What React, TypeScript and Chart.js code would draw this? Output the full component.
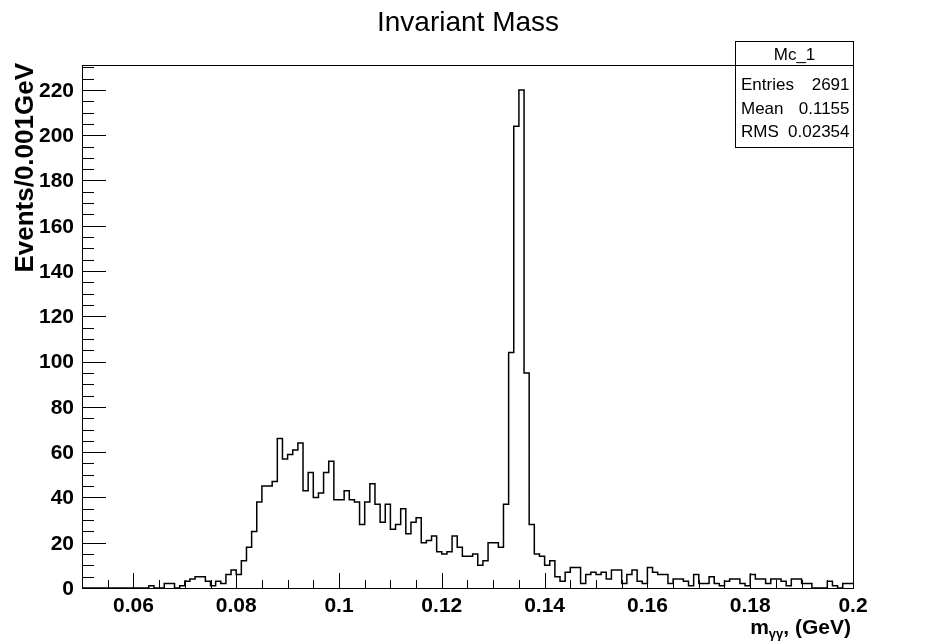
import React, { useEffect, useRef } from 'react';
import { Chart, registerables } from 'chart.js';

Chart.register(...registerables);

// ---- data ----
const X_MIN = 0.05;
const X_MAX = 0.2;
const BIN_WIDTH = 0.001;
const Y_MAX = 231;

// events per 0.001 GeV bin, from 0.050 to 0.200 GeV (150 bins)
const binCounts: number[] = [
  0, 0, 0, 0, 0, 0, 0, 0, 0, 0, 0, 0, 0, 1, 0, 0, 2, 2, 0, 1,
  3, 4, 5, 5, 3, 1, 3, 2, 6, 8, 6,
  12, 18, 25, 38, 45, 45, 47,
  66, 57, 59, 61, 64,
  43, 51, 40, 42, 51, 56, 39, 39,
  43, 39, 38, 28, 38, 46, 37, 29, 37, 26,
  28, 35, 24, 29, 31, 20, 21, 23, 16, 15,
  16, 23, 18, 14, 14, 15, 10, 12, 20, 20, 18,
  37, 104, 204, 220, 95, 28,
  15, 14, 10, 12, 5, 3, 7, 9, 9, 2, 6, 7, 6,
  7, 4, 8, 8, 2, 6, 8, 3, 2, 9, 7, 6, 6, 2, 4, 4, 3, 1, 6, 2,
  2, 5, 2, 1, 3, 4, 4, 2, 1, 6, 4, 4, 2, 4, 4, 3, 1, 4, 4, 2, 2, 0, 0, 0, 3, 1, 0, 2, 2,
];

const xTickValues = [0.06, 0.08, 0.1, 0.12, 0.14, 0.16, 0.18, 0.2];
const xTickLabels = ['0.06', '0.08', '0.1', '0.12', '0.14', '0.16', '0.18', '0.2'];
const yTickValues = [0, 20, 40, 60, 80, 100, 120, 140, 160, 180, 200, 220];
const yTickLabels = ['0', '20', '40', '60', '80', '100', '120', '140', '160', '180', '200', '220'];
const X_MINOR_STEP = 0.005;
const Y_MINOR_STEP = 5;

const chartTitle = 'Invariant Mass';
const yAxisTitle = 'Events/0.001GeV';
const xTitleMain = 'm';
const xTitleSub = 'γγ';
const xTitleRest = ', (GeV)';

const statsName = 'Mc_1';
const statsLabels = ['Entries', 'Mean', 'RMS'];
const statsValues = ['2691', '0.1155', '0.02354'];

const FONT = '"Liberation Sans", Arial, Helvetica, sans-serif';

const rootPlugin = {
  id: 'rootStyle',
  beforeDraw(chart: any) {
    const { ctx, width, height } = chart;
    ctx.save();
    ctx.fillStyle = '#ffffff';
    ctx.fillRect(0, 0, width, height);
    ctx.restore();
  },
  afterDraw(chart: any) {
    const { ctx, chartArea } = chart;
    const xs = chart.scales.x;
    const ys = chart.scales.y;
    const { left, right, top, bottom } = chartArea;
    ctx.save();
    ctx.strokeStyle = '#000';
    ctx.fillStyle = '#000';
    ctx.lineWidth = 1;

    // frame
    ctx.strokeRect(Math.round(left) + 0.5, Math.round(top) + 0.5, Math.round(right - left), Math.round(bottom - top));

    // x ticks (inward)
    const nx = Math.round((X_MAX - X_MIN) / X_MINOR_STEP);
    ctx.beginPath();
    for (let k = 1; k <= nx; k++) {
      const v = X_MIN + k * X_MINOR_STEP;
      const isMajor = xTickValues.some((t) => Math.abs(t - v) < 1e-9);
      const px = Math.round(xs.getPixelForValue(v)) + 0.5;
      ctx.moveTo(px, bottom);
      ctx.lineTo(px, bottom - (isMajor ? 15 : 8));
    }
    // y ticks (inward)
    const ny = Math.floor(Y_MAX / Y_MINOR_STEP);
    for (let k = 1; k <= ny; k++) {
      const v = k * Y_MINOR_STEP;
      const isMajor = yTickValues.includes(v);
      const py = Math.round(ys.getPixelForValue(v)) + 0.5;
      ctx.moveTo(left, py);
      ctx.lineTo(left + (isMajor ? 24 : 12), py);
    }
    ctx.stroke();

    // tick labels
    ctx.font = `bold 21px ${FONT}`;
    ctx.textAlign = 'center';
    ctx.textBaseline = 'alphabetic';
    xTickValues.forEach((v, i) => {
      ctx.fillText(xTickLabels[i], xs.getPixelForValue(v), 612);
    });
    ctx.textAlign = 'right';
    ctx.textBaseline = 'middle';
    yTickValues.forEach((v, i) => {
      ctx.fillText(yTickLabels[i], 74, ys.getPixelForValue(v) + 1);
    });

    // title
    ctx.font = `28px ${FONT}`;
    ctx.textAlign = 'center';
    ctx.textBaseline = 'alphabetic';
    ctx.fillText(chartTitle, 468, 31);

    // y axis title
    ctx.save();
    ctx.translate(33, top - 2);
    ctx.rotate(-Math.PI / 2);
    ctx.font = `bold 26px ${FONT}`;
    ctx.textAlign = 'right';
    ctx.textBaseline = 'alphabetic';
    ctx.fillText(yAxisTitle, 0, 0);
    ctx.restore();

    // x axis title with subscript
    ctx.textAlign = 'left';
    ctx.textBaseline = 'alphabetic';
    const bigFont = `bold 21px ${FONT}`;
    const subFont = `bold 13px ${FONT}`;
    ctx.font = bigFont;
    const wMain = ctx.measureText(xTitleMain).width;
    const wRest = ctx.measureText(xTitleRest).width;
    ctx.font = subFont;
    const wSub = ctx.measureText(xTitleSub).width;
    const xEnd = right - 2;
    let xPos = xEnd - (wMain + wSub + wRest);
    const base = 634;
    ctx.font = bigFont;
    ctx.fillText(xTitleMain, xPos, base);
    xPos += wMain;
    ctx.font = subFont;
    ctx.fillText(xTitleSub, xPos, base + 4);
    xPos += wSub;
    ctx.font = bigFont;
    ctx.fillText(xTitleRest, xPos, base);

    // stats box
    const bx = 735.5, by = 41.5, bw = Math.round(right) - 735, bh = 106;
    ctx.fillStyle = '#fff';
    ctx.fillRect(bx, by, bw, bh);
    ctx.strokeRect(bx, by, bw, bh);
    ctx.beginPath();
    ctx.moveTo(bx, Math.round(top) + 0.5);
    ctx.lineTo(bx + bw, Math.round(top) + 0.5);
    ctx.stroke();
    ctx.fillStyle = '#000';
    ctx.font = `17px ${FONT}`;
    ctx.textAlign = 'center';
    ctx.fillText(statsName, bx + bw / 2, 60);
    const rowBase = [90, 114, 137];
    statsLabels.forEach((lab, i) => {
      ctx.textAlign = 'left';
      ctx.fillText(lab, 741, rowBase[i]);
      ctx.textAlign = 'right';
      ctx.fillText(statsValues[i], bx + bw - 4, rowBase[i]);
    });

    ctx.restore();
  },
};

export default function App() {
  const canvasRef = useRef<HTMLCanvasElement | null>(null);

  useEffect(() => {
    if (!canvasRef.current) return;
    const points = binCounts.map((v, i) => ({ x: X_MIN + i * BIN_WIDTH, y: v }));
    points.push({ x: X_MAX, y: binCounts[binCounts.length - 1] });

    const chart = new Chart(canvasRef.current, {
      type: 'line',
      data: {
        datasets: [
          {
            label: statsName,
            data: points,
            borderColor: '#000000',
            borderWidth: 1.5,
            pointRadius: 0,
            stepped: 'before',
            fill: false,
            tension: 0,
          },
        ],
      },
      options: {
        responsive: false,
        animation: false,
        devicePixelRatio: 1,
        layout: { padding: { left: 82, top: 65, right: 80, bottom: 53 } },
        plugins: {
          legend: { display: false },
          tooltip: { enabled: false },
          title: { display: false },
        },
        scales: {
          x: { type: 'linear', min: X_MIN, max: X_MAX, display: false },
          y: { type: 'linear', min: 0, max: Y_MAX, display: false },
        },
      },
      plugins: [rootPlugin],
    });
    return () => chart.destroy();
  }, []);

  return (
    <div style={{ position: 'fixed', left: 0, top: 0, width: 933, height: 641, background: '#fff' }}>
      <canvas ref={canvasRef} width={933} height={641} style={{ width: 933, height: 641, display: 'block' }} />
    </div>
  );
}
